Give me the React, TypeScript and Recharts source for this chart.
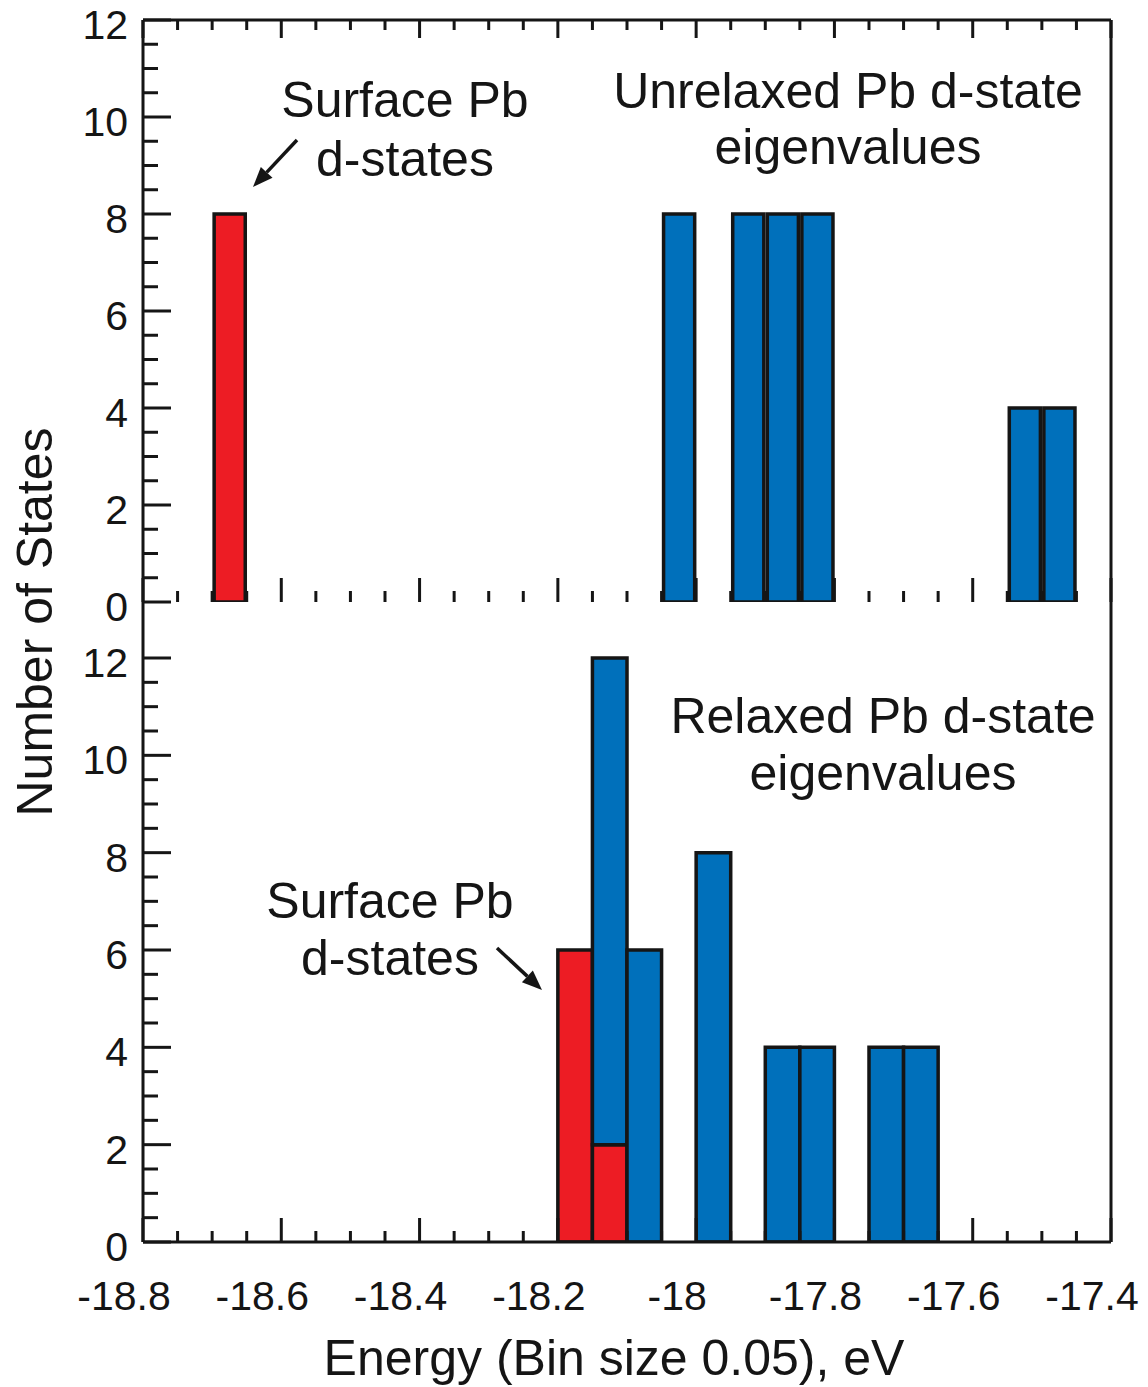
import React from "react";
import { BarChart, Bar, XAxis, YAxis } from "recharts";

// histogram bins (bin centres, eV) and state counts per bin
const binWidth = 0.05;
const energyMin = -18.8;
const energyMax = -17.4;
const majorEnergyTicks = [-18.8, -18.6, -18.4, -18.2, -18, -17.8, -17.6, -17.4];
const majorCountTicks = [0, 2, 4, 6, 8, 10, 12];

const unrelaxedBins = [-18.675, -18.025, -17.925, -17.875, -17.825, -17.525, -17.475];
const unrelaxedSurface = [8, 0, 0, 0, 0, 0, 0];
const unrelaxedBulk = [0, 8, 8, 8, 8, 4, 4];

const relaxedBins = [-18.175, -18.125, -18.075, -17.975, -17.875, -17.825, -17.725, -17.675];
const relaxedSurface = [6, 2, 0, 0, 0, 0, 0, 0];
const relaxedBulk = [0, 10, 6, 8, 4, 4, 4, 4];

const W = 1148;
const H = 1387;
const plotLeft = 143;
const plotRight = 1111;
const topY = 20;
const midY = 602;
const bottomY = 1242;

const ink = "#151515";
const red = "#ED1C24";
const blue = "#0070BB";
const font = "'Liberation Sans', Arial, Helvetica, sans-serif";

const unrelaxedData = unrelaxedBins.map((x, i) => ({ x, surface: unrelaxedSurface[i], bulk: unrelaxedBulk[i] }));
const relaxedData = relaxedBins.map((x, i) => ({ x, surface: relaxedSurface[i], bulk: relaxedBulk[i] }));

const nBins = Math.round((energyMax - energyMin) / binWidth);
const energyTicks = Array.from({ length: nBins + 1 }, (_, i) => +(energyMin + i * binWidth).toFixed(3));
const countTicks = Array.from({ length: 25 }, (_, i) => i * 0.5);

const barSize = (binWidth / (energyMax - energyMin)) * (plotRight - plotLeft);

const isMajorEnergy = (v: number) => majorEnergyTicks.some((m) => Math.abs(m - v) < 1e-6);

const BottomTick = ({ x, y, payload, showLabel }: any) => {
  const major = isMajorEnergy(payload.value);
  return (
    <g>
      <line x1={x} x2={x} y1={y} y2={y - (major ? 24 : 11)} stroke={ink} strokeWidth={3} />
      {showLabel && major && (
        <text x={x - 19} y={y + 68} textAnchor="middle" fontSize={41} fontFamily={font} fill={ink}>
          {String(+payload.value.toFixed(2))}
        </text>
      )}
    </g>
  );
};

const TopTick = ({ x, y, payload }: any) => {
  const major = isMajorEnergy(payload.value);
  return <line x1={x} x2={x} y1={y} y2={y + (major ? 18 : 10)} stroke={ink} strokeWidth={3} />;
};

const LeftTick = ({ x, y, payload }: any) => {
  const v = payload.value;
  const major = majorCountTicks.includes(v);
  return (
    <g>
      <line x1={x} x2={x + (major ? 28 : 15)} y1={y} y2={y} stroke={ink} strokeWidth={3} />
      {major && (
        <text x={x - 15} y={y + 19} textAnchor="end" fontSize={41} fontFamily={font} fill={ink}>
          {v}
        </text>
      )}
    </g>
  );
};

function Arrow({ x1, y1, x2, y2 }: { x1: number; y1: number; x2: number; y2: number }) {
  const dx = x2 - x1;
  const dy = y2 - y1;
  const len = Math.hypot(dx, dy);
  const ux = dx / len;
  const uy = dy / len;
  const head = 20;
  const half = 8;
  const bx = x2 - ux * head;
  const by = y2 - uy * head;
  const pts = `${x2},${y2} ${bx - uy * half},${by + ux * half} ${bx + uy * half},${by - ux * half}`;
  return (
    <g>
      <line x1={x1} y1={y1} x2={bx} y2={by} stroke={ink} strokeWidth={3.5} />
      <polygon points={pts} fill={ink} />
    </g>
  );
}

// axes get a 1px box so recharts still renders them; margins compensate
function Panel({ data, top, bottom, yMax, showTopAxis, showXLabels }: any) {
  return (
    <div style={{ position: "absolute", left: 0, top: 0 }}>
      <BarChart
        width={W}
        height={H}
        data={data}
        margin={{
          top: showTopAxis ? top - 1 : top,
          right: W - plotRight - 1,
          bottom: H - bottom - 1,
          left: plotLeft - 1,
        }}
        barCategoryGap={0}
      >
        <XAxis
          xAxisId="b"
          dataKey="x"
          type="number"
          domain={[energyMin, energyMax]}
          allowDataOverflow
          ticks={energyTicks}
          interval={0}
          height={1}
          tickSize={0}
          tickMargin={0}
          axisLine={showXLabels ? { stroke: ink, strokeWidth: 3 } : false}
          tickLine={false}
          tick={(p: any) => <BottomTick {...p} showLabel={showXLabels} />}
        />
        {showTopAxis && (
          <XAxis
            xAxisId="t"
            orientation="top"
            dataKey="x"
            type="number"
            domain={[energyMin, energyMax]}
            allowDataOverflow
            ticks={energyTicks}
            interval={0}
            height={1}
            tickSize={0}
            tickMargin={0}
            axisLine={{ stroke: ink, strokeWidth: 3 }}
            tickLine={false}
            tick={(p: any) => <TopTick {...p} />}
          />
        )}
        <YAxis
          yAxisId="l"
          type="number"
          domain={[0, yMax]}
          allowDataOverflow
          ticks={countTicks}
          interval={0}
          width={1}
          tickSize={0}
          tickMargin={0}
          axisLine={{ stroke: ink, strokeWidth: 3 }}
          tickLine={false}
          tick={(p: any) => <LeftTick {...p} />}
        />
        <YAxis
          yAxisId="r"
          orientation="right"
          type="number"
          domain={[0, yMax]}
          allowDataOverflow
          ticks={[0, yMax]}
          width={1}
          tickSize={0}
          tick={false}
          tickLine={false}
          axisLine={{ stroke: ink, strokeWidth: 3 }}
        />
        <Bar
          xAxisId="b"
          yAxisId="l"
          dataKey="surface"
          stackId="s"
          barSize={barSize}
          fill={red}
          stroke={ink}
          strokeWidth={3.5}
          isAnimationActive={false}
        />
        <Bar
          xAxisId="b"
          yAxisId="l"
          dataKey="bulk"
          stackId="s"
          barSize={barSize}
          fill={blue}
          stroke={ink}
          strokeWidth={3.5}
          isAnimationActive={false}
        />
      </BarChart>
    </div>
  );
}

export default function App() {
  // lower panel keeps the same counts-per-pixel scale as the upper one
  const relaxedMax = (12 * (bottomY - midY)) / (bottomY - 658);
  const txt = { fontFamily: font, fill: ink, fontSize: 50, textAnchor: "middle" as const };
  return (
    <div style={{ position: "absolute", left: 0, top: 0, width: W, height: H, background: "#fff" }}>
      <Panel data={unrelaxedData} top={topY} bottom={midY} yMax={12} showTopAxis showXLabels={false} />
      <Panel data={relaxedData} top={midY} bottom={bottomY} yMax={relaxedMax} showTopAxis={false} showXLabels />
      <svg width={W} height={H} style={{ position: "absolute", left: 0, top: 0, pointerEvents: "none" }}>
        <text {...txt} x={405} y={117}>Surface Pb</text>
        <text {...txt} x={405} y={176}>d-states</text>
        <Arrow x1={297} y1={140} x2={253} y2={187} />
        <text {...txt} x={848} y={108}>Unrelaxed Pb d-state</text>
        <text {...txt} x={848} y={164}>eigenvalues</text>
        <text {...txt} x={883} y={733}>Relaxed Pb d-state</text>
        <text {...txt} x={883} y={790}>eigenvalues</text>
        <text {...txt} x={390} y={918}>Surface Pb</text>
        <text {...txt} x={390} y={975}>d-states</text>
        <Arrow x1={497} y1={948} x2={542} y2={990} />
        <text {...txt} x={614} y={1375}>Energy (Bin size 0.05), eV</text>
        <text {...txt} x={52} y={622} transform="rotate(-90 52 622)">Number of States</text>
      </svg>
    </div>
  );
}
